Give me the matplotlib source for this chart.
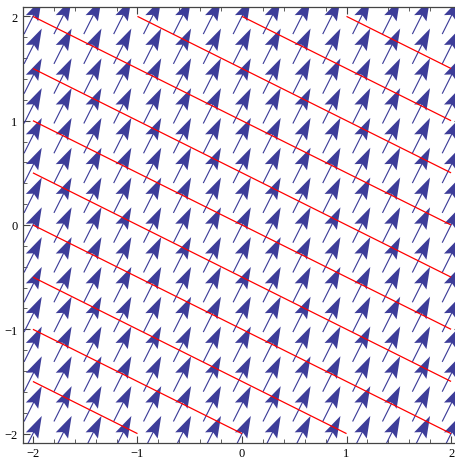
import numpy as np
import matplotlib
matplotlib.use("Agg")
import matplotlib.pyplot as plt
from matplotlib.ticker import MultipleLocator

# vector field (constant) and the red contour levels of x + 2y
field_u = 1.0
field_v = 2.0
n_points = 15
domain = [-2, 2]
levels = [-5, -4, -3, -2, -1, 0, 1, 2, 3, 4, 5]
tick_values = [-2, -1, 0, 1, 2]

arrow_color = "#3d3d99"

fig = plt.figure(figsize=(4.56, 4.60), dpi=100)
ax = fig.add_axes([23 / 456, 16 / 460, 438 / 456, 436 / 460])

gx = np.linspace(domain[0], domain[1], n_points)
X, Y = np.meshgrid(gx, gx)
U = np.full_like(X, field_u)
V = np.full_like(Y, field_v)
ax.quiver(X, Y, U, V, color=arrow_color, pivot="middle",
          angles="xy", scale_units="xy", scale=5.9, units="xy",
          width=0.011, headwidth=12, headlength=19, headaxislength=16,
          zorder=2)

cx = np.linspace(domain[0], domain[1], 201)
CX, CY = np.meshgrid(cx, cx)
ax.contour(CX, CY, CX + 2 * CY, levels=levels, colors="red",
           linewidths=0.9, linestyles="solid", zorder=3)

ax.set_xlim(-2.095, 2.095)
ax.set_ylim(-2.09, 2.09)

ax.set_xticks(tick_values)
ax.set_yticks(tick_values)
ax.xaxis.set_minor_locator(MultipleLocator(0.2))
ax.yaxis.set_minor_locator(MultipleLocator(0.2))
ax.tick_params(which="both", direction="in", top=True, right=True,
               colors="#444444", labelcolor="black")
ax.tick_params(which="major", length=5, width=0.8)
ax.tick_params(which="minor", length=3, width=0.6)
for lab in ax.get_xticklabels() + ax.get_yticklabels():
    lab.set_fontfamily("Liberation Serif")
    lab.set_fontsize(9)
ax.tick_params(axis="x", pad=3)
ax.tick_params(axis="y", pad=4)
for s in ax.spines.values():
    s.set_color("#444444")
    s.set_linewidth(0.9)

fig.savefig("out.png", dpi=100)
